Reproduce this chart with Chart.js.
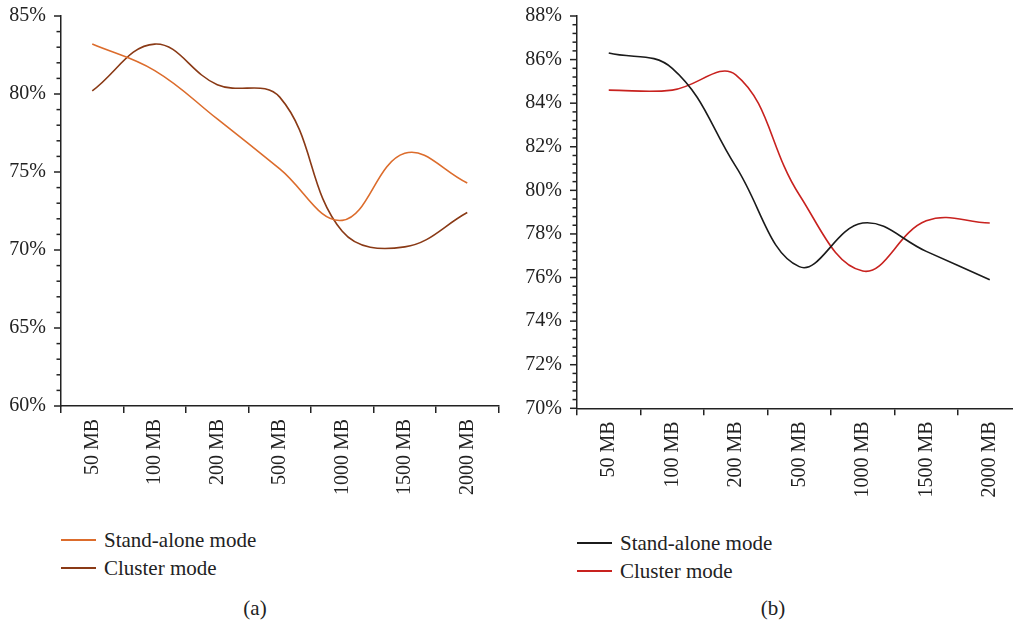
<!DOCTYPE html>
<html>
<head>
<meta charset="utf-8">
<script src="https://cdn.jsdelivr.net/npm/chart.js@4.4.1/dist/chart.umd.min.js"></script>
<style>
  html, body { margin: 0; padding: 0; background: #fff; overflow: hidden; width: 1013px; height: 625px; }
  body { position: relative; font-family: "Liberation Serif", "DejaVu Serif", serif; color: #222; }
  .panel { position: absolute; top: -4px; }
  .legend { position: absolute; font-size: 21px; }
  .legend .item { display: flex; align-items: center; height: 28px; white-space: nowrap; }
  .legend .ln { display: inline-block; width: 35px; height: 0; border-top: 2px solid; margin-right: 8px; }
  .caption { position: absolute; font-size: 21px; transform: translateX(-50%); line-height: 24px; }
</style>
</head>
<body>
<div class="panel" style="left:0"><canvas id="chartA" width="510" height="514"></canvas></div>
<div class="panel" style="left:500px"><canvas id="chartB" width="540" height="514"></canvas></div>
<div class="legend" id="legendA" style="left:61px; top:526px"></div>
<div class="legend" id="legendB" style="left:577px; top:529px"></div>
<div class="caption" style="left:255px; top:596px">(a)</div>
<div class="caption" style="left:773px; top:596px">(b)</div>

<script>
// file sizes on the x axis (both panels)
const sizes = ["50 MB", "100 MB", "200 MB", "500 MB", "1000 MB", "1500 MB", "2000 MB"];
const seriesNames = ["Stand-alone mode", "Cluster mode"];

// panel (a), percent
const standaloneA = [83.2, 81.5, 78.4, 75.2, 71.9, 76.2, 74.3];
const clusterA = [80.2, 83.2, 80.6, 79.8, 71.2, 70.2, 72.4];

// panel (b), percent
const standaloneB = [86.3, 85.6, 81.1, 76.5, 78.5, 77.2, 75.9];
const clusterB = [84.6, 84.6, 85.3, 79.8, 76.3, 78.6, 78.5];

// y axis: min, max, minor step, labelled step
const yAxisA = [60, 85, 1, 5];
const yAxisB = [70, 88, 0.4, 2];

const FONT = "'Liberation Serif', 'DejaVu Serif', serif";
const AXIS = "#222";

function isMajor(v, step) {
  return Math.abs(v / step - Math.round(v / step)) < 1e-6;
}

// minor / major tick marks on the y axis (major ones a bit longer)
const yTickMarks = {
  id: "yTickMarks",
  afterDraw(chart, args, opts) {
    const y = chart.scales.y;
    const ctx = chart.ctx;
    ctx.save();
    ctx.strokeStyle = AXIS;
    ctx.lineWidth = 1.5;
    y.ticks.forEach((t) => {
      const py = y.getPixelForValue(t.value);
      const len = isMajor(t.value, opts.major) ? 7 : 4.5;
      ctx.beginPath();
      ctx.moveTo(y.right - len, py);
      ctx.lineTo(y.right, py);
      ctx.stroke();
    });
    ctx.restore();
  },
};

function makeChart(id, axis, s1, s2, colors, yWidth, xHeight, padTop, padRight) {
  const [yMin, yMax, yStep, yMajor] = axis;
  return new Chart(document.getElementById(id), {
    type: "line",
    data: {
      labels: sizes,
      datasets: [
        { label: seriesNames[0], data: s1, borderColor: colors[0] },
        { label: seriesNames[1], data: s2, borderColor: colors[1] },
      ],
    },
    plugins: [yTickMarks],
    options: {
      responsive: false,
      animation: false,
      layout: { padding: { top: padTop, right: padRight, left: 0, bottom: 0 } },
      elements: {
        point: { radius: 0 },
        line: { borderWidth: 1.6, tension: 0.4, fill: false },
      },
      plugins: {
        legend: { display: false },
        tooltip: { enabled: false },
        yTickMarks: { major: yMajor },
      },
      scales: {
        x: {
          offset: true,
          grid: { offset: true, drawOnChartArea: false, tickLength: 7, color: AXIS, lineWidth: 1.5 },
          border: { color: AXIS, width: 1.5 },
          ticks: {
            minRotation: 90,
            maxRotation: 90,
            autoSkip: false,
            padding: 6,
            color: AXIS,
            font: { family: FONT, size: 20 },
          },
          afterFit: (s) => { s.height = xHeight; },
        },
        y: {
          min: yMin,
          max: yMax,
          grid: { drawOnChartArea: false, tickLength: 7, tickColor: "rgba(0,0,0,0)" },
          border: { color: AXIS, width: 1.5 },
          ticks: {
            stepSize: yStep,
            autoSkip: false,
            padding: 8,
            color: AXIS,
            font: { family: FONT, size: 20 },
            callback: (v) => (isMajor(v, yMajor) ? Math.round(v) + "%" : ""),
          },
          afterFit: (s) => { s.width = yWidth; },
        },
      },
    },
  });
}

function makeLegend(id, colors) {
  const box = document.getElementById(id);
  seriesNames.forEach((name, i) => {
    const row = document.createElement("div");
    row.className = "item";
    row.innerHTML = `<span class="ln" style="border-color:${colors[i]}"></span>${name}`;
    box.appendChild(row);
  });
}

const colorsA = ["#dc6c2c", "#8a3a16"];
const colorsB = ["#1b1b1b", "#c8221f"];

makeChart("chartA", yAxisA, standaloneA, clusterA, colorsA, 61, 104, 11, 11.5);
makeChart("chartB", yAxisB, standaloneB, clusterB, colorsB, 77, 101.7, 11, 18.5);
makeLegend("legendA", colorsA);
makeLegend("legendB", colorsB);
</script>
</body>
</html>
